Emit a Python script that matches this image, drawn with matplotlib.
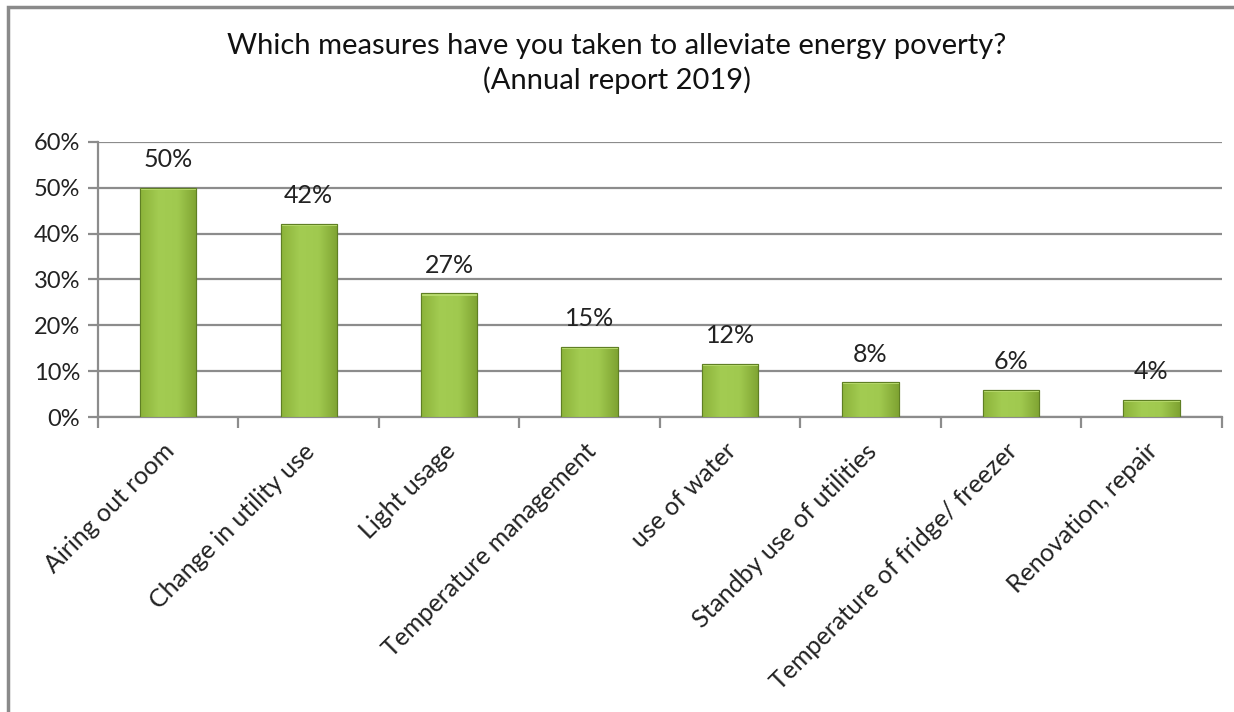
"""
Energy poverty measures bar chart (annual report 2019).
"""
import matplotlib
matplotlib.use('Agg')
import matplotlib.pyplot as plt
import numpy as np
from matplotlib.patches import Rectangle
from matplotlib.colors import LinearSegmentedColormap

measures = ["Airing out room", "Change in utility use", "Light usage",
            "Temperature management", "use of water", "Standby use of utilities",
            "Temperature of fridge/ freezer", "Renovation, repair"]
shares = [50.0, 42.2, 27.0, 15.3, 11.6, 7.6, 5.9, 3.8]
y_ticks = [0, 10, 20, 30, 40, 50, 60]

title = "Which measures have you taken to alleviate energy poverty?\n(Annual report 2019)"

plt.rcParams['font.family'] = ['Lato', 'DejaVu Sans']
grid_col = '#8c8c8c'

fig = plt.figure(figsize=(12.34, 7.12), dpi=100)
ax = fig.add_axes([0.0794, 0.4143, 0.9106, 0.3863])

x = np.arange(len(measures))
bars = ax.bar(x, shares, width=0.4, color='#9cc64a', edgecolor='#5f7f24',
              linewidth=0.8, zorder=3)

# bevel-like gradient on each bar
cmap = LinearSegmentedColormap.from_list('bev', ['#8cb33a', '#a3cc52', '#a0c94f', '#7fa332'])
grad = np.linspace(0, 1, 64).reshape(1, -1)
for b in bars:
    x0, y0, w, h = b.get_x(), b.get_y(), b.get_width(), b.get_height()
    im = ax.imshow(grad, cmap=cmap, extent=(x0, x0 + w, y0, y0 + h),
                   aspect='auto', zorder=3.5, interpolation='bicubic')
    im.set_clip_path(b)
    ax.add_patch(Rectangle((x0, y0 + h - 0.5), w, 0.5, color='#b8db6e', lw=0, zorder=3.6))
    ax.add_patch(Rectangle((x0, y0), w, h, fill=False, ec='#5f7f24', lw=0.8, zorder=3.7))

for xi, v in zip(x, shares):
    ax.annotate(f"{round(v):.0f}%", (xi, v), xytext=(0, 12), textcoords='offset points',
                ha='center', va='bottom', fontsize=18, color='#222222')

ax.set_xlim(-0.5, len(measures) - 0.5)
ax.set_ylim(0, 60)
ax.set_yticks(y_ticks)
ax.set_yticklabels([f"{t}%" for t in y_ticks], fontsize=17, color='#222222')
ax.yaxis.grid(True, color=grid_col, linewidth=1.6, zorder=0)
ax.set_axisbelow(True)

ax.set_xticks(np.arange(len(measures) + 1) - 0.5)
ax.set_xticklabels([])
ax.tick_params(axis='x', length=8, width=1.6, color=grid_col, direction='out')
ax.tick_params(axis='y', length=7, width=1.6, color=grid_col, direction='out', pad=6)

for xi, lab in zip(x, measures):
    ax.annotate(lab, (xi, 0), xytext=(-4, -16), textcoords='offset points',
                rotation=45, rotation_mode='anchor', ha='right', va='top',
                fontsize=18, color='#222222', annotation_clip=False)

for s in ['top', 'right']:
    ax.spines[s].set_visible(False)
for s in ['left', 'bottom']:
    ax.spines[s].set_color(grid_col)
    ax.spines[s].set_linewidth(1.6)

fig.text(0.5, 0.911, title, ha='center', va='center', fontsize=21,
         color='#111111', linespacing=1.33)

# outer chart frame (only left/top visible in crop)
fig.patches.append(Rectangle((8 / 1234, -0.05), 1.2, 1 - 7 / 712 + 0.05,
                             transform=fig.transFigure, fill=False,
                             ec='#8a8a8a', lw=2.5))

fig.savefig("out.png", dpi=100)
